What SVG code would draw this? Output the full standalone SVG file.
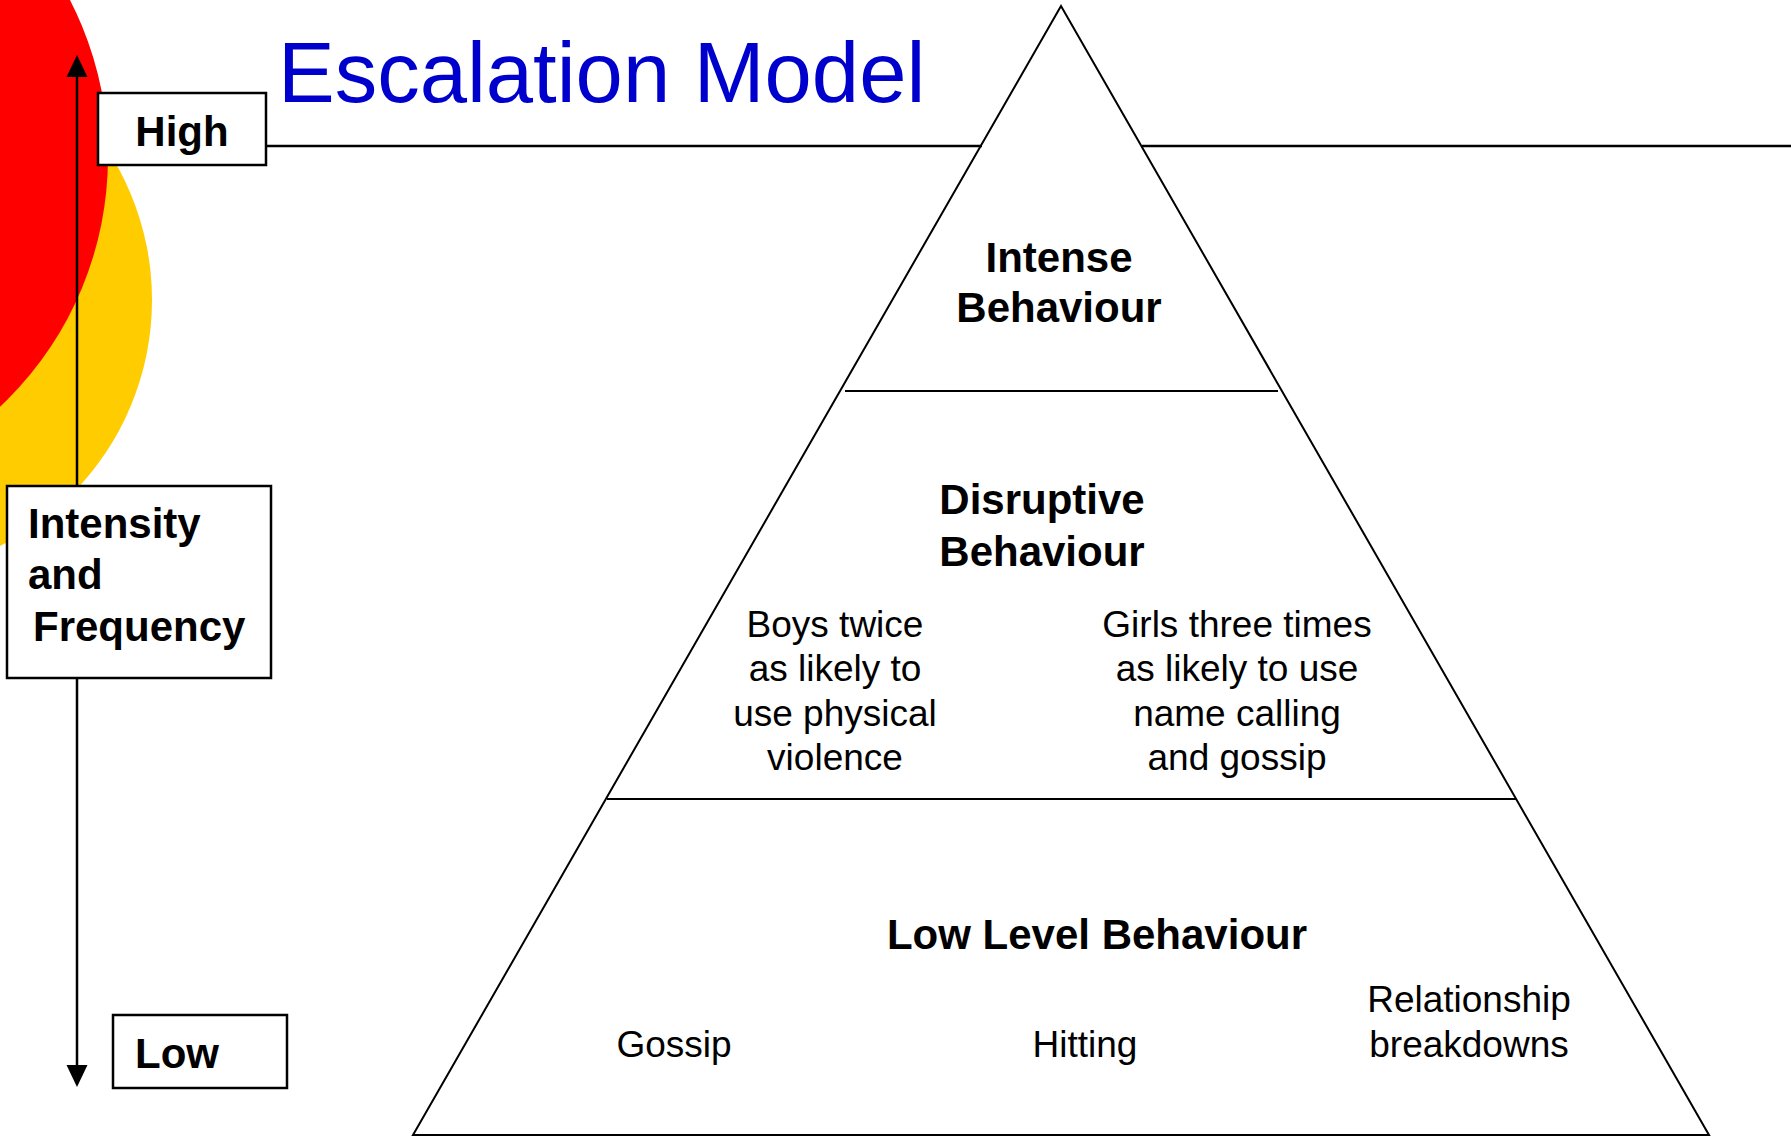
<svg xmlns="http://www.w3.org/2000/svg" width="1791" height="1137" viewBox="0 0 1791 1137">
  <style>
    .box { fill: #ffffff; stroke: #000000; stroke-width: 2.5; }
    .edge { fill: none; stroke: #000000; stroke-width: 2; }
    .b42 { font-family: "Liberation Sans", Arial, sans-serif; font-weight: bold; font-size: 42px; fill: #000000; }
    .r36 { font-family: "Liberation Sans", Arial, sans-serif; font-size: 37px; fill: #000000; }
    .title { font-family: "Liberation Sans", Arial, sans-serif; font-size: 85px; fill: #0000CC; }
  </style>
  <rect x="0" y="0" width="1791" height="1137" fill="#ffffff"/>

  <g id="background-circles">
    <circle cx="-123" cy="300" r="275" fill="#FFCC00"/>
    <circle cx="-235" cy="157" r="343" fill="#FF0000"/>
  </g>

  <g id="title">
    <text class="title" x="278" y="102">Escalation Model</text>
  </g>

  <g id="connectors">
    <line x1="266" y1="146" x2="982" y2="146" stroke="#000" stroke-width="2.5"/>
    <line x1="1142" y1="146" x2="1791" y2="146" stroke="#000" stroke-width="2.5"/>
    <line x1="77" y1="486" x2="77" y2="72" stroke="#000" stroke-width="2.5"/>
    <polygon points="77,55 66.5,77 87.5,77" fill="#000"/>
    <line x1="77" y1="678" x2="77" y2="1070" stroke="#000" stroke-width="2.5"/>
    <polygon points="77,1087 66.5,1065 87.5,1065" fill="#000"/>
  </g>

  <g id="node-high">
    <rect class="box" x="98" y="93" width="168" height="72"/>
    <text class="b42" x="182" y="146" text-anchor="middle">High</text>
  </g>

  <g id="node-intensity">
    <rect class="box" x="7" y="486" width="264" height="192"/>
    <text class="b42" x="28" y="538">Intensity</text>
    <text class="b42" x="28" y="589">and</text>
    <text class="b42" x="33" y="641">Frequency</text>
  </g>

  <g id="node-low">
    <rect class="box" x="113" y="1015" width="174" height="73"/>
    <text class="b42" x="135" y="1068">Low</text>
  </g>

  <g id="pyramid">
    <polygon class="edge" points="1061,6 413,1135 1709,1135"/>
    <line class="edge" x1="845" y1="391" x2="1278" y2="391"/>
    <line class="edge" x1="607" y1="799" x2="1516" y2="799"/>
  </g>

  <g id="node-intense">
    <text class="b42" x="1059" y="272" text-anchor="middle">Intense</text>
    <text class="b42" x="1059" y="322" text-anchor="middle">Behaviour</text>
  </g>

  <g id="node-disruptive">
    <text class="b42" x="1042" y="514" text-anchor="middle">Disruptive</text>
    <text class="b42" x="1042" y="566" text-anchor="middle">Behaviour</text>
    <text class="r36" x="835" y="637" text-anchor="middle">Boys twice</text>
    <text class="r36" x="835" y="681" text-anchor="middle">as likely to</text>
    <text class="r36" x="835" y="726" text-anchor="middle">use physical</text>
    <text class="r36" x="835" y="770" text-anchor="middle">violence</text>
    <text class="r36" x="1237" y="637" text-anchor="middle">Girls three times</text>
    <text class="r36" x="1237" y="681" text-anchor="middle">as likely to use</text>
    <text class="r36" x="1237" y="726" text-anchor="middle">name calling</text>
    <text class="r36" x="1237" y="770" text-anchor="middle">and gossip</text>
  </g>

  <g id="node-low-level">
    <text class="b42" x="1097" y="949" text-anchor="middle">Low Level Behaviour</text>
    <text class="r36" x="674" y="1057" text-anchor="middle">Gossip</text>
    <text class="r36" x="1085" y="1057" text-anchor="middle">Hitting</text>
    <text class="r36" x="1469" y="1012" text-anchor="middle">Relationship</text>
    <text class="r36" x="1469" y="1057" text-anchor="middle">breakdowns</text>
  </g>
</svg>
